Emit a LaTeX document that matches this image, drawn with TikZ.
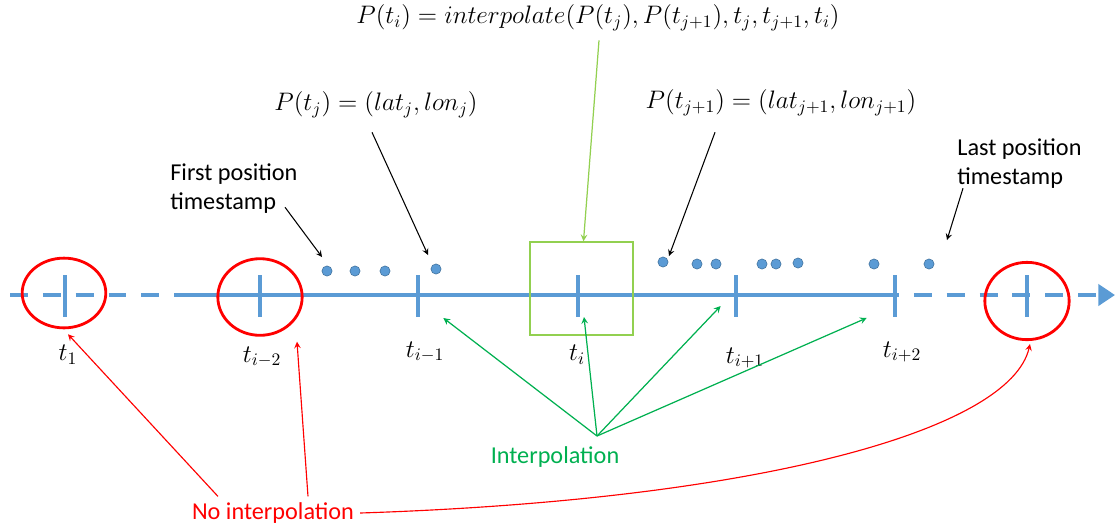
\documentclass[tikz,border=0pt]{standalone}
\usepackage{fontspec}
\setmainfont{Carlito}
\usetikzlibrary{arrows.meta,shapes.geometric}
\definecolor{axisblue}{HTML}{5B9BD5}
\definecolor{dotline}{HTML}{41719C}
\definecolor{ngreen}{HTML}{00B050}
\definecolor{lgreen}{HTML}{92D050}
\tikzset{
  axis/.style={draw=axisblue,line width=2.3pt},
  dashaxis/.style={axis,dash pattern=on 10.2pt off 8.5pt},
  tick/.style={fill=axisblue,minimum width=2.3pt,minimum height=23.5pt,inner sep=0pt},
  dot/.style={circle,fill=axisblue,draw=dotline,line width=0.3pt,minimum size=5.8pt,inner sep=0pt},
  ring/.style={ellipse,draw=red,line width=1.6pt,inner sep=0pt},
  mlabel/.style={font=\fontsize{13.8}{16}\selectfont},
  garrow/.style={->,draw=ngreen,line width=0.7pt},
  rarrow/.style={->,draw=red,line width=0.65pt},
  barrow/.style={->,draw=black,line width=0.6pt}
}
\begin{document}
\begin{tikzpicture}[x=0.02cm, y=-0.02cm, >=stealth, every node/.style={font=\fontsize{13.8}{17}\selectfont}]
    \useasboundingbox (0,0) rectangle (1115,525);
    \coordinate (ax0) at (10,295);
    \coordinate (ax1) at (190,295);
    \coordinate (ax2) at (881,295);
    \coordinate (ax3) at (1115,295);
    \draw[dashaxis] (ax0) -- (ax1);
    \draw[axis] (ax1) -- (ax2);
    \draw[dashaxis,-{Triangle[length=9.5pt,width=12pt]}] (ax2) -- (ax3);
    \foreach \x [count=\k] in {65,260,418,578,736,895,1027}
        \node[tick] (k\k) at (\x,296) {};
    \foreach \x/\y [count=\k] in {327/271,355/271,385/271,436/269,663/262,697/264,716/264,762/264,776/264,798/263,874/264,929/264}
        \node[dot] (d\k) at (\x,\y) {};
    \node[ring,minimum width=47.6pt,minimum height=39.7pt] (c1) at (64,293) {};
    \node[ring,minimum width=48pt,minimum height=43.6pt] (c2) at (260,297) {};
    \node[ring,minimum width=48pt,minimum height=44pt] (c3) at (1027,301) {};
    \node[draw=lgreen,line width=0.85pt,minimum width=2.06cm,minimum height=1.86cm,inner sep=0pt] (box) at (581.5,288.5) {};
    \node[mlabel] (l1) at (68,355) {$t_1$};
    \node[mlabel] (l2) at (262,357) {$t_{i-2}$};
    \node[mlabel] (l3) at (425,352) {$t_{i-1}$};
    \node[mlabel] (l4) at (577,355) {$t_i$};
    \node[mlabel] (l5) at (745,358) {$t_{i+1}$};
    \node[mlabel] (l6) at (902,352) {$t_{i+2}$};
    \node[mlabel] (form) at (598,18) {$P(t_i) = interpolate(P(t_j), P(t_{j+1}), t_j, t_{j+1}, t_i)$};
    \node[mlabel] (pj) at (376,105) {$P(t_j) = (lat_j, lon_j)$};
    \node[mlabel] (pj1) at (781,103) {$P(t_{j+1}) = (lat_{j+1}, lon_{j+1})$};
    \node[align=left,anchor=north west,inner sep=0pt] (first) at (170,163) {First position\\timestamp};
    \node[align=left,anchor=north west,inner sep=0pt] (last) at (957,138) {Last position\\timestamp};
    \node[text=ngreen] (interp) at (555,457) {Interpolation};
    \node[text=red] (nointerp) at (273,513) {No interpolation};
    \coordinate (conv) at (597,436);
    \draw[->,draw=lgreen,line width=0.7pt] ([shift={(1,3)}]form.south) -- ([shift={(2,0)}]box.north);
    \draw[barrow] ([shift={(115,-7)}]first.south west) -- ([shift={(-5,-14)}]d1.center);
    \draw[barrow] ([shift={(-4,8)}]pj.south) -- ([shift={(-8,-14)}]d4.center);
    \draw[barrow] ([shift={(-66,10)}]pj1.south) -- ([shift={(6,-6)}]d5.center);
    \draw[barrow] ([shift={(6,-1)}]last.south west) -- ([shift={(18,-24)}]d12.center);
    \draw[garrow] (conv) -- ([shift={(23,1)}]k3.south east);
    \draw[garrow] (conv) -- ([shift={(6,0)}]k4.south);
    \draw[garrow] (conv) -- ([shift={(-13,-11)}]k5.south west);
    \draw[garrow] (conv) -- ([shift={(-26,1)}]k6.south west);
    \draw[rarrow] ([shift={(-55,0)}]nointerp.north) -- ([shift={(4,5)}]c1.south);
    \draw[rarrow] ([shift={(35,0)}]nointerp.north) -- ([shift={(37,5)}]c2.south);
    \draw[rarrow] (nointerp.east) .. controls (760,500) and (1010,430) .. ([shift={(3,3)}]c3.south);
\end{tikzpicture}
\end{document}
